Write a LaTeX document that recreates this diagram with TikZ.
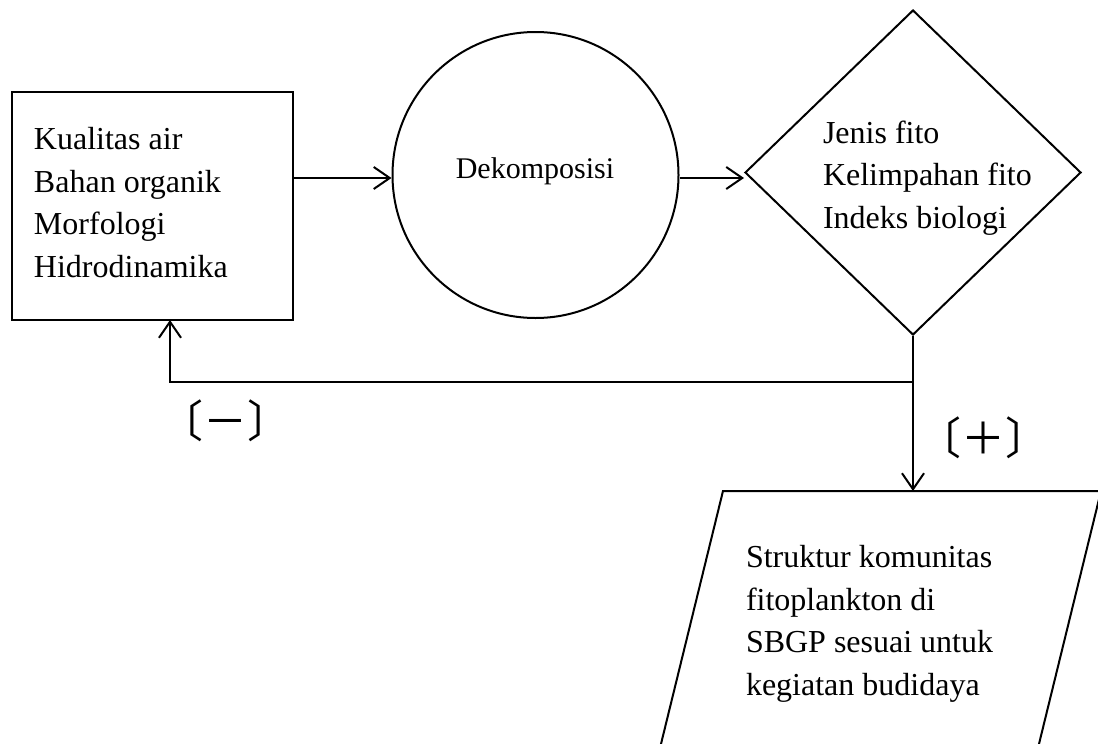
\documentclass[tikz,border=0pt]{standalone}
\usepackage{fontspec}
\setmainfont{Liberation Serif}
\newfontfamily\cjk{Noto Sans CJK SC}
\usetikzlibrary{arrows.meta,shapes.geometric}
\begin{document}
\begin{tikzpicture}[x=1pt,y=-1pt,
  line width=2pt,
  conn/.style={-{Straight Barb[length=16pt,width=22pt,line width=2pt]}},
  txt/.style={inner sep=0pt,align=left,font=\fontsize{32pt}{42.5pt}\selectfont,anchor=base west},
  sign/.style={inner sep=0pt,font=\cjk\fontsize{44pt}{44pt}\selectfont}]
\useasboundingbox (0,0) rectangle (1098,744);
% shapes
\node[draw,rectangle,minimum width=281pt,minimum height=228pt,inner sep=0pt] (rect) at (152.5,206) {};
\node[draw,circle,minimum size=286pt,inner sep=0pt] (circ) at (535.5,175) {};
\node[draw,diamond,minimum width=336pt,minimum height=325pt,inner sep=0pt] (diam) at (913,172.5) {};
\coordinate (pa) at (723,491);
\coordinate (pb) at (1101,491);
\coordinate (pc) at (1038,748);
\coordinate (pd) at (660,748);
\draw (pa) -- (pb) -- (pc) -- (pd) -- cycle;
\coordinate (ptop) at (913,491);
% texts (anchor at baseline of the last line)
\node[txt] (t1) at (33,277) {Kualitas air\\Bahan organik\\Morfologi\\Hidrodinamika};
\node[txt,anchor=base,font=\fontsize{30pt}{36pt}\selectfont] (t2) at (535,178) {Dekomposisi};
\node[txt] (t3) at (822,228) {Jenis fito\\Kelimpahan fito\\Indeks biologi};
\node[txt] (t4) at (745,695) {Struktur komunitas\\fitoplankton di\\SBGP sesuai untuk\\kegiatan budidaya};
% connectors
\coordinate (j1) at (913,382);
\coordinate (j2) at (170,382);
\coordinate (rb) at (170,320);
\draw[conn] (rect.east |- 0,178) -- (circ.west |- 0,178);
\draw[conn] (circ.east |- 0,178) -- (diam.west |- 0,178);
\draw[conn] (diam.south) -- (ptop);
\draw[conn] (j1) -- (j2) -- (rb);
% labels
\node[sign] (minus) at (225,421) {〔－〕};
\node[sign] (plus) at (983,438) {〔＋〕};
\end{tikzpicture}
\end{document}
